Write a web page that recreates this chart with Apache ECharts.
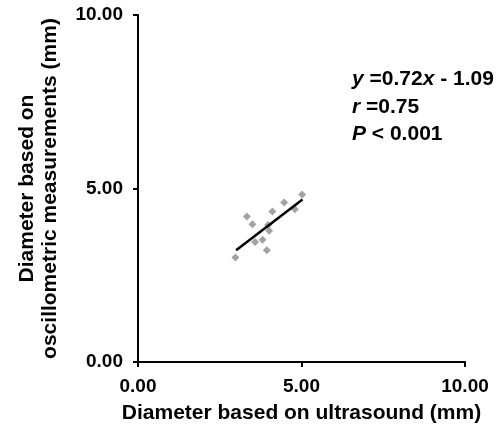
<!DOCTYPE html>
<html>
<head>
<meta charset="utf-8">
<script src="https://cdn.jsdelivr.net/npm/echarts@6/dist/echarts.min.js"></script>
<style>
  html, body { margin: 0; padding: 0; background: #fff; }
  #main { width: 503px; height: 428px; }
</style>
</head>
<body>
<div id="main"></div>
<script>
// ultrasound (x) vs oscillometric (y) diameters, mm
var points = [
  [2.98, 3.01], [3.33, 4.19], [3.50, 3.97], [3.58, 3.46], [3.81, 3.52],
  [3.94, 3.22], [3.98, 3.95], [4.01, 3.78], [4.11, 4.34], [4.47, 4.60],
  [4.80, 4.40], [5.02, 4.83]
];
// fitted line ends
var fitLine = [[3.0, 3.22], [5.03, 4.68]];
var axisTicks = [0, 5, 10];

var chart = echarts.init(document.getElementById('main'));
var fam = 'Liberation Sans, Arial';
var labelFont = { color: '#000', fontWeight: 'bold', fontSize: 19, fontFamily: fam };

var option = {
  animation: false,
  grid: { left: 138, right: 38, top: 15, bottom: 66, outerBoundsMode: 'none', containLabel: false },
  xAxis: {
    type: 'value', min: axisTicks[0], max: axisTicks[2], interval: 5,
    splitLine: { show: false },
    axisLine: { lineStyle: { color: '#000', width: 2 } },
    axisTick: { length: 5, lineStyle: { color: '#000', width: 2 } },
    axisLabel: Object.assign({ margin: 15, formatter: function (v) { return v.toFixed(2); } }, labelFont),
    name: 'Diameter based on ultrasound (mm)',
    nameLocation: 'middle', nameGap: 41,
    nameTextStyle: { color: '#000', fontWeight: 'bold', fontSize: 21, fontFamily: fam }
  },
  yAxis: {
    type: 'value', min: axisTicks[0], max: axisTicks[2], interval: 5,
    splitLine: { show: false },
    axisLine: { lineStyle: { color: '#000', width: 2 } },
    axisTick: { length: 5, lineStyle: { color: '#000', width: 2 } },
    axisLabel: Object.assign({ margin: 15, formatter: function (v) { return v.toFixed(2); } }, labelFont),
    name: 'Diameter based on\noscillometric measurements (mm)',
    nameLocation: 'middle', nameGap: 76,
    nameTextStyle: { color: '#000', fontWeight: 'bold', fontSize: 21, lineHeight: 23, fontFamily: fam }
  },
  graphic: [{
    type: 'text', left: 352, top: 69,
    style: {
      text: '{i|y}{n| =0.72}{i|x}{n| - 1.09}\n{i|r}{n| =0.75}\n{i|P}{n| < 0.001}',
      rich: {
        i: { fontStyle: 'italic', fontWeight: 'bold', fontSize: 21, fontFamily: fam, fill: '#000', lineHeight: 27.5 },
        n: { fontWeight: 'bold', fontSize: 21, fontFamily: fam, fill: '#000', lineHeight: 27.5 }
      }
    }
  }],
  series: [
    {
      type: 'scatter', data: points, symbol: 'diamond', symbolSize: 8,
      itemStyle: { color: '#8c8c8c' }
    },
    {
      type: 'line', data: fitLine, showSymbol: false,
      lineStyle: { color: '#000', width: 2.5 }
    }
  ]
};
chart.setOption(option);
</script>
</body>
</html>
